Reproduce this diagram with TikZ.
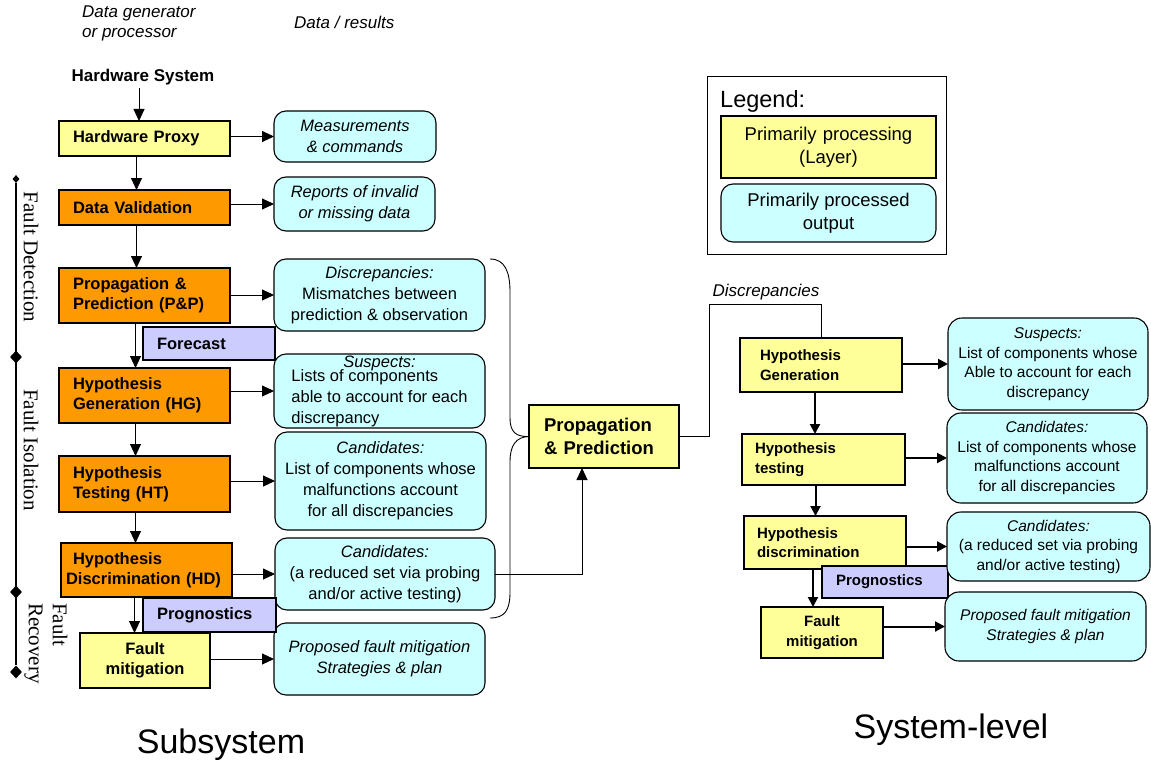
\documentclass[tikz,border=0pt]{standalone}
\usepackage{fontspec}
\setmainfont{Liberation Sans}
\newfontfamily\phasefont{Liberation Serif}
\usepackage{xcolor}
\usepackage{tikz}
\usetikzlibrary{
	arrows.meta,
	shapes.geometric
}
\definecolor{LayerYellow}{RGB}{255,255,153}
\definecolor{LayerOrange}{RGB}{255,153,0}
\definecolor{OutCyan}{RGB}{204,255,255}
\definecolor{ExtraLilac}{RGB}{204,204,255}
\newcommand{\fsz}[2]{\fontsize{#1}{#2}\selectfont}

\begin{document}
\begin{tikzpicture}[x=1pt, y=-1pt,
		layer/.style={draw, line width=1.1pt, fill=LayerYellow, align=left, anchor=north west,
			inner xsep=14pt, inner ysep=0pt, outer sep=0pt, font=\bfseries\fsz{16.5}{20}},
		layerR/.style={layer, inner xsep=20pt, font=\bfseries\fsz{15}{19.5}},
		output/.style={draw, line width=1.1pt, fill=OutCyan, rounded corners=12pt, align=center,
			anchor=north west, inner sep=0pt, outer sep=0pt, font=\fsz{16.5}{21}},
		outputR/.style={output, rounded corners=14pt, font=\fsz{15.5}{19.5}},
		extra/.style={layer, fill=ExtraLilac},
		flow/.style={line width=0.9pt, -{Triangle[length=12pt, width=11pt]}},
		flowR/.style={line width=2pt, -{Triangle[length=10pt, width=10pt]}},
		phasemark/.style={diamond, fill=black, inner sep=0pt, minimum width=12pt, minimum height=13pt},
		phase/.style={font=\phasefont\fsz{21}{24}, rotate=-90, inner sep=0pt}]
	\useasboundingbox (0,0) rectangle (1151,765);
	% headings
	\node[anchor=west, align=left, inner sep=0pt, font=\itshape\fsz{17}{20}] (genlbl) at (82,23) {Data generator\\or processor};
	\node[anchor=west, inner sep=0pt, font=\itshape\fsz{17}{20}] (reslbl) at (294,22) {Data / results};
	\node[font=\bfseries\fsz{17}{20}] (hws) at (143,77) {Hardware System};
	% subsystem layers
	\node[layer, text width=143pt, minimum height=35pt] (hp) at (59,121) {Hardware Proxy};
	\node[layer, fill=LayerOrange, text width=143pt, minimum height=35pt] (dv) at (59,190) {Data Validation};
	\node[layer, fill=LayerOrange, text width=143pt, minimum height=55pt] (pnp) at (59,268) {Propagation \&\\Prediction (P\&P)};
	\node[layer, fill=LayerOrange, text width=143pt, minimum height=55pt] (hg) at (59,368) {Hypothesis\\Generation (HG)};
	\node[layer, fill=LayerOrange, text width=143pt, minimum height=56pt] (ht) at (59,456) {Hypothesis\\Testing (HT)};
	\node[layer, fill=LayerOrange, inner xsep=5pt, text width=161pt, minimum height=54pt] (hd) at (61,543) {\hspace*{7pt}Hypothesis\\Discrimination (HD)};
	\node[layer, align=center, text width=102pt, minimum height=55pt] (fm) at (80,633) {Fault\\mitigation};
	% subsystem outputs
	\node[output, minimum width=162pt, minimum height=51pt, font=\itshape\fsz{16.5}{21}] (meas) at (274,111) {Measurements\\\& commands};
	\node[output, minimum width=161pt, minimum height=54pt, font=\itshape\fsz{16.5}{21}] (rep) at (274,177) {Reports of invalid\\or missing data};
	\node[output, minimum width=211pt, minimum height=72pt] (disc) at (274,259) {\textit{Discrepancies:}\\Mismatches between\\prediction \& observation};
	\node[output, align=left, minimum width=211pt, minimum height=74pt] (susp) at (274,354) {\rule{0pt}{26pt}Lists of components\\able to account for each\\discrepancy};
	\node[font=\itshape\fsz{16.5}{20}, inner sep=0pt] (suslbl) at ([yshift=-9pt]susp.north) {Suspects:};
	\node[output, minimum width=211pt, minimum height=98pt] (cand) at (275,432) {\textit{Candidates:}\\List of components whose\\malfunctions account\hspace*{22pt}\\for all discrepancies};
	\node[output, minimum width=220pt, minimum height=72pt] (candb) at (275,538) {\textit{Candidates:}\\(a reduced set via probing\\and/or active testing)};
	\node[output, minimum width=211pt, minimum height=72pt, font=\itshape\fsz{16.5}{21}] (mitig) at (274,623) {Proposed fault mitigation\\Strategies \& plan};
	\node[extra, text width=104pt, minimum height=33pt] (fc) at (143,327) {Forecast};
	\node[extra, text width=105pt, minimum height=34pt] (prog) at (143,598) {Prognostics};
	% phases
	\node[phasemark, minimum width=7pt, minimum height=8pt] (ph0) at (16,179) {};
	\node[phasemark] (ph1) at (16,357) {};
	\node[phasemark] (ph2) at (16,592) {};
	\node[phasemark] (ph3) at (16,672) {};
	\draw[line width=1.2pt] (ph0) -- (ph3);
	\node[phase] (detlbl) at (31,257) {Fault Detection};
	\node[phase] (isolbl) at (31,450) {Fault Isolation};
	\node[phase, align=left, anchor=west] (reclbl) at (46,603) {Fault\\Recovery};
	% subsystem flow
	\draw[flow] ([xshift=-4pt]hws.south) -- ([xshift=-4pt]hws.south |- hp.north);
	\draw[flow] ([xshift=-8pt]hp.south) -- ([xshift=-8pt]hp.south |- dv.north);
	\draw[flow] ([xshift=-8pt]dv.south) -- ([xshift=-8pt]dv.south |- pnp.north);
	\draw[flow] ([xshift=-9pt]pnp.south) -- ([xshift=-9pt]pnp.south |- hg.north);
	\draw[flow] ([xshift=-9pt]hg.south) -- ([xshift=-9pt]hg.south |- ht.north);
	\draw[flow] ([xshift=-9pt]ht.south) -- ([xshift=-9pt]ht.south |- hd.north);
	\draw[flow] ([xshift=-12pt]hd.south) -- ([xshift=-12pt]hd.south |- fm.north);
	\draw[flow] (hp.east |- meas.west) -- (meas.west);
	\draw[flow] (dv.east |- rep.west) -- (rep.west);
	\draw[flow] (pnp.east |- disc.west) -- (disc.west);
	\draw[flow] (hg.east |- susp.west) -- (susp.west);
	\draw[flow] (ht.east |- cand.west) -- (cand.west);
	\draw[flow] (hd.east |- candb.west) -- (candb.west);
	\draw[flow] (fm.east |- mitig.west) -- (mitig.west);
	% system-level propagation
	\node[layer, inner xsep=15pt, text width=120pt, minimum height=63pt, font=\bfseries\fsz{18.5}{23}] (pp) at (529,405) {Propagation\\\& Prediction};
	\coordinate (bracetop) at (490,259);
	\coordinate (bracebot) at (490,618);
	\draw[line width=0.9pt] (bracetop) .. controls (505,259) and (510,272) .. (510,292)
		-- (510,418) .. controls (510,432) and (516,437) .. (pp.west)
		.. controls (516,437) and (510,445) .. (510,462) -- (510,592)
		.. controls (510,610) and (505,618) .. (bracebot);
	\draw[flow] (candb.east) -| ([xshift=-22pt]pp.south);
	% system-level layers
	\node[layerR, text width=122pt, minimum height=54pt] (hgb) at (740,338) {Hypothesis\\Generation};
	\node[layerR, inner xsep=13pt, text width=137pt, minimum height=51pt] (htb) at (742,434) {Hypothesis\\testing};
	\node[layerR, inner xsep=13pt, text width=136pt, minimum height=53pt] (hdb) at (744,516) {Hypothesis\\discrimination};
	\node[extra, font=\bfseries\fsz{15}{19.5}, text width=98pt, minimum height=32pt] (progb) at (822,566) {Prognostics};
	\node[layerR, align=center, inner xsep=14pt, text width=94pt, minimum height=51pt] (fmb) at (761,607) {Fault\\mitigation};
	\coordinate (discturn) at (709,304);
	\draw[line width=0.9pt] (pp.east) -| (discturn) -| (hgb.north);
	\node[font=\itshape\fsz{17}{21}] (disclbl) at (766,292) {Discrepancies};
	% system-level outputs
	\node[outputR, minimum width=200pt, minimum height=92pt] (suspb) at (948,318) {\textit{Suspects:}\\List of components whose\\Able to account for each\\discrepancy};
	\node[outputR, minimum width=200pt, minimum height=90pt] (candc) at (947,413) {\textit{Candidates:}\\List of components whose\\malfunctions account\hspace*{26pt}\\for all discrepancies};
	\node[outputR, minimum width=203pt, minimum height=69pt] (candd) at (947,512) {\textit{Candidates:}\\(a reduced set via probing\\and/or active testing)};
	\node[outputR, minimum width=201pt, minimum height=69pt, font=\itshape\fsz{15.5}{19.5}] (mitigb) at (945,592) {Proposed fault mitigation\\Strategies \& plan};
	\draw[flowR] ([xshift=-6pt]hgb.south) -- ([xshift=-6pt]hgb.south |- htb.north);
	\draw[flowR] ([xshift=-8pt]htb.south) -- ([xshift=-8pt]htb.south |- hdb.north);
	\draw[flowR] ([xshift=-12pt]hdb.south) -- ([xshift=-12pt]hdb.south |- fmb.north);
	\draw[flowR] (hgb.east |- suspb.west) -- (suspb.west);
	\draw[flowR] (htb.east |- candc.west) -- (candc.west);
	\draw[flowR] (hdb.east |- candd.west) -- (candd.west);
	\draw[flowR] (fmb.east |- mitigb.west) -- (mitigb.west);
	% legend
	\node[draw, line width=1pt, fill=white, anchor=north west, minimum width=239pt, minimum height=178pt, inner sep=0pt] (legend) at (707,76) {};
	\node[anchor=west, inner sep=0pt, font=\fsz{23.5}{28}] (legtitle) at (720,101) {Legend:};
	\node[layer, font=\fsz{18.5}{23}, align=center, inner xsep=0pt, text width=215pt, minimum height=62pt] (legproc) at (721,116) {Primarily processing\\(Layer)};
	\node[output, font=\fsz{18.5}{23}, minimum width=215pt, minimum height=58pt] (legout) at (721,184) {Primarily processed\\output};
	% titles
	\node[font=\fsz{34}{40}] (subtitle) at (221,745) {Subsystem};
	\node[font=\fsz{34}{40}] (systitle) at (951,730) {System-level};
\end{tikzpicture}
\end{document}
